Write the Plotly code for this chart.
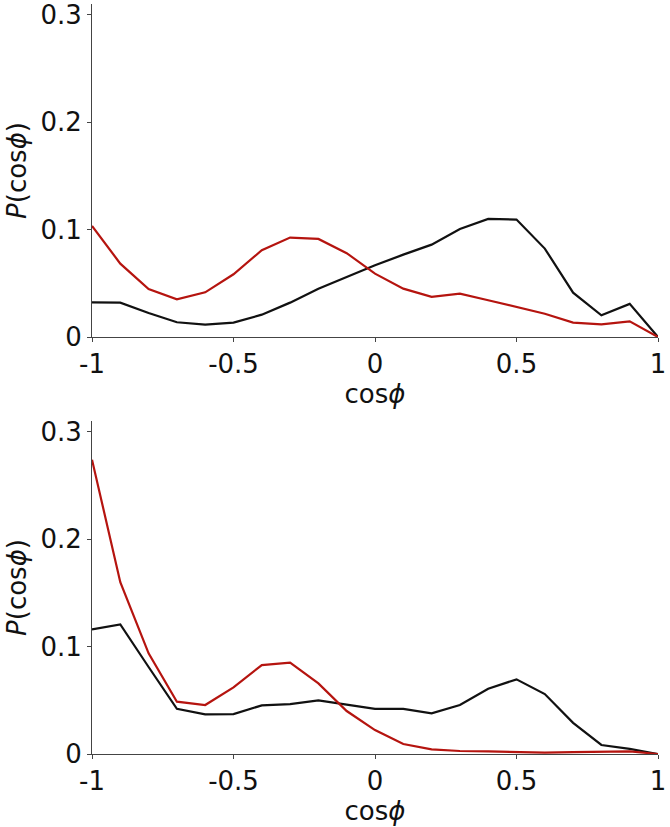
import plotly.graph_objects as go

x_vals = [-1.0, -0.9, -0.8, -0.7, -0.6, -0.5, -0.4, -0.3, -0.2, -0.1, 0.0,
          0.1, 0.2, 0.3, 0.4, 0.5, 0.6, 0.7, 0.8, 0.9, 1.0]

top_black = [0.0323, 0.032, 0.0224, 0.0137, 0.0115, 0.0134, 0.0208, 0.032, 0.045, 0.056,
             0.0668, 0.0767, 0.086, 0.1006, 0.110, 0.1093, 0.0823, 0.0413, 0.0202, 0.0308, 0.0]
top_red = [0.1034, 0.0683, 0.0447, 0.0351, 0.0416, 0.0584, 0.0808, 0.0926, 0.0913, 0.078,
           0.059, 0.045, 0.0373, 0.0404, 0.0342, 0.028, 0.0217, 0.0134, 0.0118, 0.0146, 0.0]

bot_black = [0.116, 0.1206, 0.081, 0.042, 0.0369, 0.0372, 0.0453, 0.0465, 0.050, 0.046,
             0.042, 0.042, 0.0378, 0.0456, 0.0608, 0.0695, 0.0558, 0.029, 0.0084, 0.0047, 0.0]
bot_red = [0.274, 0.160, 0.0937, 0.0487, 0.0456, 0.062, 0.0828, 0.085, 0.0657, 0.040,
           0.0223, 0.0093, 0.0043, 0.0028, 0.0025, 0.002, 0.0012, 0.0018, 0.0022, 0.0025, 0.0]

x_tickvals = [-1, -0.5, 0, 0.5, 1]
x_ticktext = ["-1", "-0.5", "0", "0.5", "1"]
y_tickvals = [0, 0.1, 0.2, 0.3]
y_ticktext = ["0", "0.1", "0.2", "0.3"]

BLACK = "#111111"
RED = "#b5140f"
FONT = "DejaVu Sans"

fig = go.Figure()
fig.add_trace(go.Scatter(x=x_vals, y=top_black, mode="lines", line=dict(color=BLACK, width=2.2),
                         xaxis="x", yaxis="y", showlegend=False))
fig.add_trace(go.Scatter(x=x_vals, y=top_red, mode="lines", line=dict(color=RED, width=2.2),
                         xaxis="x", yaxis="y", showlegend=False))
fig.add_trace(go.Scatter(x=x_vals, y=bot_black, mode="lines", line=dict(color=BLACK, width=2.2),
                         xaxis="x2", yaxis="y2", showlegend=False))
fig.add_trace(go.Scatter(x=x_vals, y=bot_red, mode="lines", line=dict(color=RED, width=2.2),
                         xaxis="x2", yaxis="y2", showlegend=False))

xcommon = dict(range=[-1, 1], tickvals=x_tickvals, ticktext=x_ticktext, showgrid=False,
               zeroline=False, showline=True, linecolor="#444444", linewidth=1,
               ticks="outside", ticklen=4, tickcolor="#444444", automargin=False,
               ticklabeloverflow="allow",
               tickfont=dict(family=FONT, size=26, color="#111111"),
               title=dict(text="cos<i>ϕ</i>", font=dict(family=FONT, size=26, color="#111111"),
                          standoff=2))
ycommon = dict(range=[0, 0.31], tickvals=y_tickvals, ticktext=y_ticktext, showgrid=False,
               zeroline=False, showline=True, linecolor="#444444", linewidth=1,
               ticks="outside", ticklen=4, tickcolor="#444444", automargin=False,
               ticklabeloverflow="allow",
               tickfont=dict(family=FONT, size=26, color="#111111"),
               title=dict(text="<i>P</i>(cos<i>ϕ</i>)", font=dict(family=FONT, size=26, color="#111111"),
                          standoff=6))

fig.update_layout(
    width=670, height=827,
    margin=dict(l=92, r=12, t=4, b=73),
    paper_bgcolor="white", plot_bgcolor="white",
    xaxis=dict(domain=[0, 1], anchor="y", **xcommon),
    yaxis=dict(domain=[0.556, 1], anchor="x", **ycommon),
    xaxis2=dict(domain=[0, 1], anchor="y2", **xcommon),
    yaxis2=dict(domain=[0, 0.444], anchor="x2", **ycommon),
)

fig.write_html("out.html", config={"displayModeBar": False},
               post_script="document.body.style.margin='0';document.body.style.overflow='hidden';")
